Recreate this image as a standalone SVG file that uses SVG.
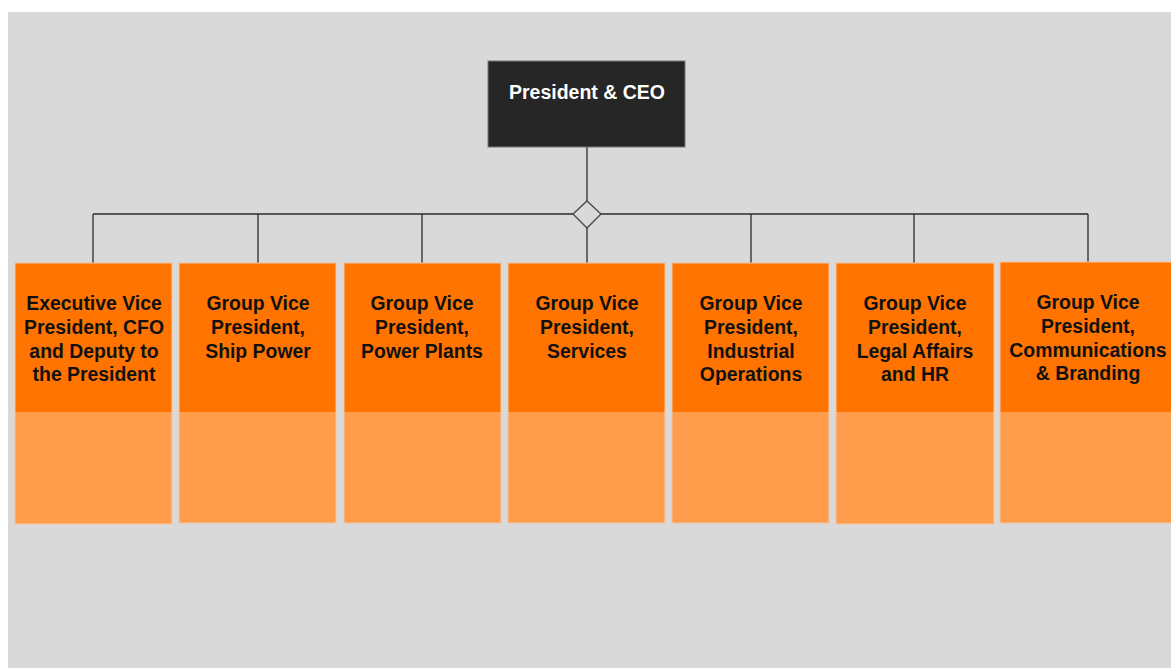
<svg xmlns="http://www.w3.org/2000/svg" width="1171" height="668" viewBox="0 0 1171 668">
<style>
.hd{fill:#ff7300}
.bd{fill:#ff9d4d}
.fr{fill:none;stroke:#f2c6a6;stroke-width:1}
.t{font-family:"Liberation Sans",Arial,sans-serif;font-weight:bold;font-size:19.4px;fill:#111;text-anchor:middle}
.ceo{font-family:"Liberation Sans",Arial,sans-serif;font-weight:bold;font-size:19.5px;fill:#fff;text-anchor:middle}
.ln{fill:none;stroke:#2a2a2a;stroke-width:1.3}
</style>
<rect width="1171" height="668" fill="#ffffff"/>
<rect x="8" y="12" width="1163" height="656" fill="#d9d9d9"/>
<g id="connectors">
<line class="ln" x1="587" y1="147" x2="587" y2="201"/>
<line class="ln" x1="93" y1="214" x2="573" y2="214"/>
<line class="ln" x1="601" y1="214" x2="1088" y2="214"/>
<line class="ln" x1="93" y1="214" x2="93" y2="263"/>
<line class="ln" x1="258" y1="214" x2="258" y2="263"/>
<line class="ln" x1="422" y1="214" x2="422" y2="263"/>
<line class="ln" x1="587" y1="228" x2="587" y2="263"/>
<line class="ln" x1="751" y1="214" x2="751" y2="263"/>
<line class="ln" x1="914" y1="214" x2="914" y2="263"/>
<line class="ln" x1="1088" y1="214" x2="1088" y2="262"/>
<polygon points="587,201 601,214 587,228 573,214" fill="#d9d9d9" stroke="#444" stroke-width="1.3"/>
</g>
<g id="ceo">
<rect x="488" y="61" width="197" height="86" fill="#262626" stroke="#777" stroke-width="1"/>
<text class="ceo" x="587" y="99">President &amp; CEO</text>
</g>
<g id="n1">
<rect class="hd" x="15" y="263" width="157" height="149"/>
<rect class="bd" x="15" y="412" width="157" height="112"/>
<rect class="fr" x="15" y="263" width="157" height="261"/>
<text class="t" x="94" y="310">Executive Vice</text>
<text class="t" x="94" y="334">President, CFO</text>
<text class="t" x="94" y="358">and Deputy to</text>
<text class="t" x="94" y="381">the President</text>
</g>
<g id="n2">
<rect class="hd" x="179" y="263" width="157" height="149"/>
<rect class="bd" x="179" y="412" width="157" height="111"/>
<rect class="fr" x="179" y="263" width="157" height="260"/>
<text class="t" x="258" y="310">Group Vice</text>
<text class="t" x="258" y="334">President,</text>
<text class="t" x="258" y="358">Ship Power</text>
</g>
<g id="n3">
<rect class="hd" x="344" y="263" width="157" height="149"/>
<rect class="bd" x="344" y="412" width="157" height="111"/>
<rect class="fr" x="344" y="263" width="157" height="260"/>
<text class="t" x="422" y="310">Group Vice</text>
<text class="t" x="422" y="334">President,</text>
<text class="t" x="422" y="358">Power Plants</text>
</g>
<g id="n4">
<rect class="hd" x="508" y="263" width="157" height="149"/>
<rect class="bd" x="508" y="412" width="157" height="111"/>
<rect class="fr" x="508" y="263" width="157" height="260"/>
<text class="t" x="587" y="310">Group Vice</text>
<text class="t" x="587" y="334">President,</text>
<text class="t" x="587" y="358">Services</text>
</g>
<g id="n5">
<rect class="hd" x="672" y="263" width="157" height="149"/>
<rect class="bd" x="672" y="412" width="157" height="111"/>
<rect class="fr" x="672" y="263" width="157" height="260"/>
<text class="t" x="751" y="310">Group Vice</text>
<text class="t" x="751" y="334">President,</text>
<text class="t" x="751" y="358">Industrial</text>
<text class="t" x="751" y="381">Operations</text>
</g>
<g id="n6">
<rect class="hd" x="836" y="263" width="158" height="149"/>
<rect class="bd" x="836" y="412" width="158" height="112"/>
<rect class="fr" x="836" y="263" width="158" height="261"/>
<text class="t" x="915" y="310">Group Vice</text>
<text class="t" x="915" y="334">President,</text>
<text class="t" x="915" y="358">Legal Affairs</text>
<text class="t" x="915" y="381">and HR</text>
</g>
<g id="n7">
<rect class="hd" x="1000" y="262" width="176" height="150"/>
<rect class="bd" x="1000" y="412" width="176" height="111"/>
<rect class="fr" x="1000" y="262" width="176" height="261"/>
<text class="t" x="1088" y="309">Group Vice</text>
<text class="t" x="1088" y="333">President,</text>
<text class="t" x="1088" y="357">Communications</text>
<text class="t" x="1088" y="380">&amp; Branding</text>
</g>
</svg>
